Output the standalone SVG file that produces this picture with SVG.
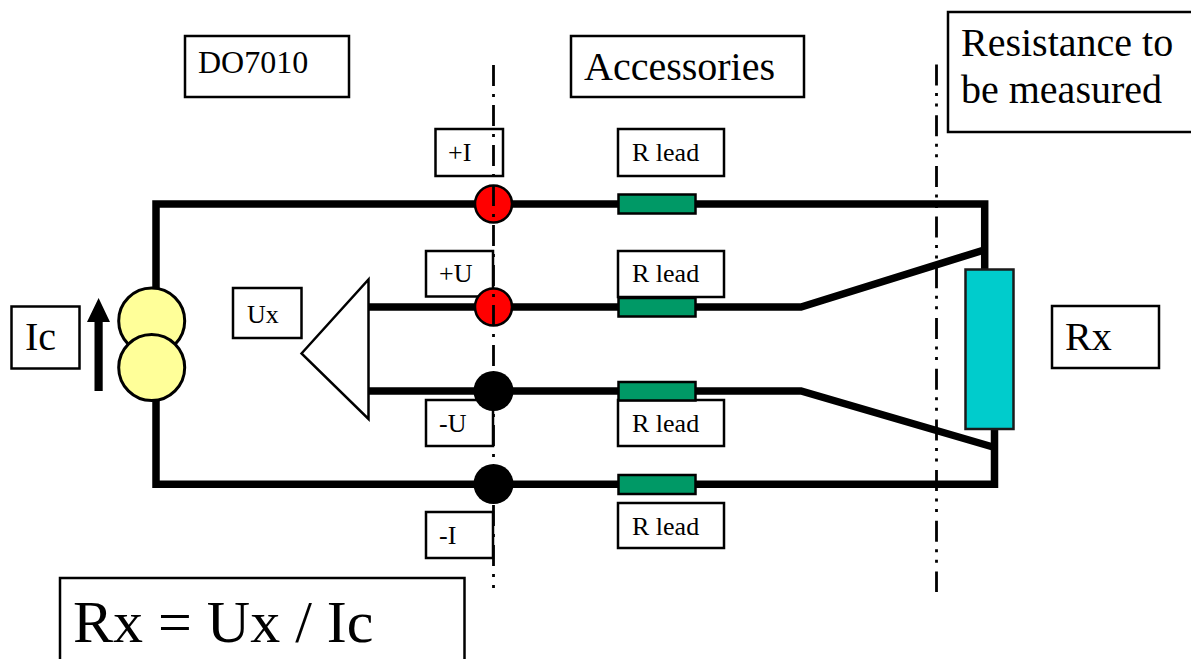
<svg xmlns="http://www.w3.org/2000/svg" width="1191" height="659" viewBox="0 0 1191 659">
<style>
.box{fill:#fff;stroke:#000;stroke-width:2.5}
.t{font-family:"Liberation Serif","Times New Roman",serif;fill:#000}
.s{font-size:26px}.m{font-size:32px}.l{font-size:40px}
.w{fill:none;stroke:#000;stroke-width:7.5;stroke-linejoin:miter}
.g{fill:#009966;stroke:#000;stroke-width:2.5}
.cl{fill:none;stroke:#000;stroke-width:2.8}
.y{fill:#ffff99;stroke:#000;stroke-width:3}
</style>
<rect width="1191" height="659" fill="#fff"/>
<g id="connectors">
<path class="w" d="M156 288V204H984.7V270"/>
<path class="w" d="M156 400V484.3H994.5V429"/>
<path class="w" d="M368 307H801L984 250"/>
<path class="w" d="M368 391H801L993 447"/>
</g>
<g id="source"><circle class="y" cx="151.7" cy="321" r="33"/><circle class="y" cx="151.7" cy="367.5" r="33"/></g>
<g id="arrow"><path d="M94.5 391V322H87L98.6 298L110 322H102.7V391Z" fill="#000"/></g>
<g id="amp"><path d="M301.5 353.5L368.5 279.5V419Z" fill="#fff" stroke="#000" stroke-width="2.5"/></g>
<g id="r1"><rect class="g" x="618.5" y="194.5" width="77" height="19"/></g>
<g id="lead2"><rect class="box" x="618" y="251" width="106" height="46"/><text class="t s" x="632" y="282">R lead</text></g>
<g id="r2"><rect class="g" x="618.5" y="298" width="77" height="18.500"/></g>
<g id="lead3"><rect class="box" x="618" y="400" width="106" height="46"/><text class="t s" x="632" y="432">R lead</text></g>
<g id="r3"><rect class="g" x="618.5" y="382" width="77" height="18.500"/></g>
<g id="r4"><rect class="g" x="618.5" y="475" width="77" height="19"/></g>
<g id="lead1"><rect class="box" x="618" y="129" width="106" height="47"/><text class="t s" x="632" y="161">R lead</text></g>
<g id="lead4"><rect class="box" x="618" y="503" width="106" height="45"/><text class="t s" x="632" y="535">R lead</text></g>
<g id="rx-body"><rect x="965.5" y="269.5" width="48" height="159.500" fill="#00cccc" stroke="#1a1a1a" stroke-width="2.5"/></g>
<g id="do7010"><rect class="box" x="185" y="36" width="164" height="61"/><text class="t m" x="198" y="73">DO7010</text></g>
<g id="accessories"><rect class="box" x="571" y="36" width="233" height="61"/><text class="t l" x="584" y="80">Accessories</text></g>
<g id="resistance"><rect class="box" x="948" y="12" width="250" height="120"/><text class="t l" x="961" y="56">Resistance to</text><text class="t l" x="961" y="103">be measured</text></g>
<g id="plus-i"><rect class="box" x="435.5" y="129" width="67.500" height="47"/><text class="t s" x="448" y="161">+I</text></g>
<g id="plus-u"><rect class="box" x="426" y="251" width="67" height="45.500"/><text class="t s" x="439" y="282">+U</text></g>
<g id="minus-u"><rect class="box" x="426" y="400" width="67" height="46"/><text class="t s" x="439" y="432">-U</text></g>
<g id="minus-i"><rect class="box" x="426" y="512" width="67" height="46"/><text class="t s" x="439" y="544">-I</text></g>
<g id="n1"><circle cx="493.5" cy="204" r="18.500" fill="#f00" stroke="#000" stroke-width="2.5"/></g>
<g id="n2"><circle cx="493.5" cy="307" r="18.500" fill="#f00" stroke="#000" stroke-width="2.5"/></g>
<g id="n3"><circle cx="493.5" cy="391" r="20" fill="#000"/></g>
<g id="n4"><circle cx="493.5" cy="484" r="20" fill="#000"/></g>
<g id="centerlines">
<path class="cl" d="M493.5 65V588" stroke-dasharray="21 8 3 8"/>
<path class="cl" d="M936.5 64.500V592" stroke-dasharray="21 7.500 3 7.500 3 8.700"/>
</g>
<g id="ux"><rect class="box" x="233" y="288" width="68.500" height="50"/><text class="t s" x="247" y="323">Ux</text></g>
<g id="ic"><rect class="box" x="11.500" y="306.500" width="68" height="62"/><text class="t l" x="25" y="350">Ic</text></g>
<g id="rx"><rect class="box" x="1052" y="306" width="107" height="62"/><text class="t l" x="1065" y="350">Rx</text></g>
<g id="formula"><rect class="box" x="60" y="578" width="404.500" height="100"/><text class="t" font-size="60" x="73" y="642">Rx = Ux / Ic</text></g>
</svg>
